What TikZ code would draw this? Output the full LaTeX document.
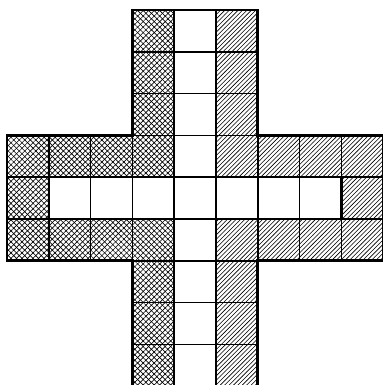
\documentclass[tikz,border=0pt]{standalone}
\usetikzlibrary{patterns,patterns.meta}
\begin{document}
\begin{tikzpicture}[x=1cm,y=1cm,
  gridline/.style={line width=1.2pt,black},
  regionline/.style={line width=1.6pt,black,line join=miter},
  outline/.style={line width=2pt,black,line join=miter},
  xhatchA/.style={pattern={Lines[angle=45,distance=2.65pt,line width=0.45pt]},pattern color=black},
  xhatchB/.style={pattern={Lines[angle=-45,distance=2.65pt,line width=0.45pt]},pattern color=black},
  lhatch/.style={pattern=north east lines,pattern color=black}]
\useasboundingbox (-0.1675,0.239) rectangle (8.995,-8.9715);
% background
\fill[white] (-0.1675,0.239) rectangle (8.995,-8.9715);
% crosshatch region
\path[xhatchA] (3,0)--(4,0)--(4,-4)--(1,-4)--(1,-5)--(4,-5)--(4,-9)--(3,-9)--(3,-6)--(0,-6)--(0,-3)--(3,-3)--cycle;
\path[xhatchB] (3,0)--(4,0)--(4,-4)--(1,-4)--(1,-5)--(4,-5)--(4,-9)--(3,-9)--(3,-6)--(0,-6)--(0,-3)--(3,-3)--cycle;
% north east lines region
\path[lhatch] (5,0)--(6,0)--(6,-3)--(9,-3)--(9,-6)--(6,-6)--(6,-9)--(5,-9)--(5,-5)--(8,-5)--(8,-4)--(5,-4)--cycle;
% grid
\draw[gridline] (3,-9) grid (6,0);
\draw[gridline] (0,-6) grid (9,-3);
% region outlines
\draw[regionline] (3,0)--(4,0)--(4,-4)--(1,-4)--(1,-5)--(4,-5)--(4,-9)--(3,-9)--(3,-6)--(0,-6)--(0,-3)--(3,-3)--cycle;
\draw[regionline] (5,0)--(6,0)--(6,-3)--(9,-3)--(9,-6)--(6,-6)--(6,-9)--(5,-9)--(5,-5)--(8,-5)--(8,-4)--(5,-4)--cycle;
% outer outline of the cross
\draw[outline] (3,0)--(6,0)--(6,-3)--(9,-3)--(9,-6)--(6,-6)--(6,-9)--(3,-9)--(3,-6)--(0,-6)--(0,-3)--(3,-3)--cycle;
\end{tikzpicture}
\end{document}
